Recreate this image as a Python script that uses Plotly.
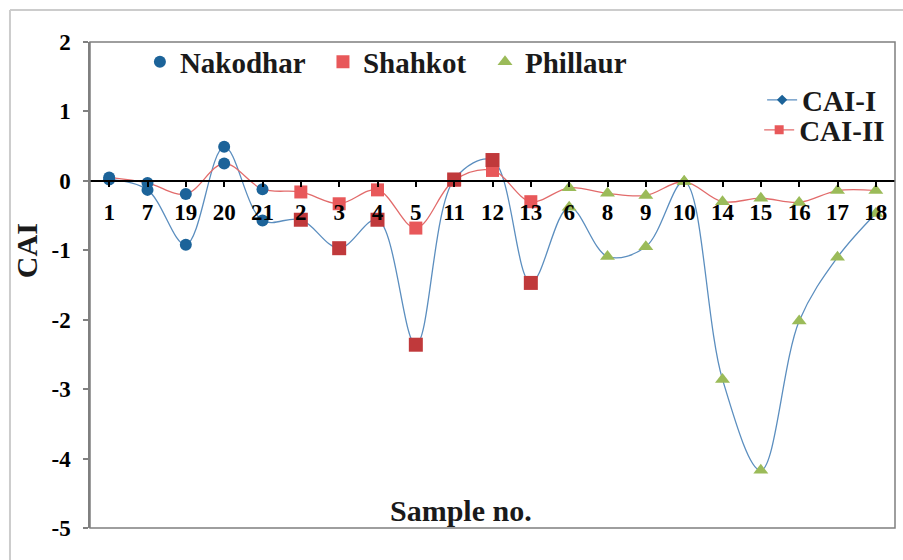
import plotly.graph_objects as go

# ---- data ----
samples = ["1", "7", "19", "20", "21", "2", "3", "4", "5", "11", "12", "13",
           "6", "8", "9", "10", "14", "15", "16", "17", "18"]
regions = ["Nakodhar"] * 5 + ["Shahkot"] * 7 + ["Phillaur"] * 9
cai_1 = [0.02, -0.13, -0.92, 0.49, -0.57, -0.56, -0.97, -0.56, -2.36, 0.02, 0.30, -1.47,
         -0.38, -1.09, -0.95, -0.01, -2.86, -4.17, -2.02, -1.10, -0.47]
cai_2 = [0.05, -0.03, -0.19, 0.25, -0.12, -0.16, -0.33, -0.13, -0.68, 0.01, 0.15, -0.30,
         -0.10, -0.18, -0.21, -0.01, -0.30, -0.25, -0.31, -0.14, -0.14]
y_ticks = [2, 1, 0, -1, -2, -3, -4, -5]

FONT = "'Liberation Serif', 'Times New Roman', Tinos, serif"
BLUE_LINE = "#5B8EBF"
RED_LINE = "#E26B6B"
NAK = "#1C6399"
SHA_LIGHT = "#E8585A"
SHA_DARK = "#C0393B"
PHI = "#9BBB59"

fig = go.Figure()

# smoothed lines
fig.add_trace(go.Scatter(x=samples, y=cai_1, mode="lines", line=dict(color=BLUE_LINE, width=1.3, shape="spline"),
                         showlegend=False, hoverinfo="skip"))
fig.add_trace(go.Scatter(x=samples, y=cai_2, mode="lines", line=dict(color=RED_LINE, width=1.3, shape="spline"),
                         showlegend=False, hoverinfo="skip"))


def pts(region, series):
    xs = [s for s, r in zip(samples, regions) if r == region]
    ys = [v for v, r in zip(series, regions) if r == region]
    return xs, ys


# Nakodhar (both series)
x1, y1 = pts("Nakodhar", cai_1)
x2, y2 = pts("Nakodhar", cai_2)
fig.add_trace(go.Scatter(x=x2 + x1, y=y2 + y1, mode="markers", name="Nakodhar",
                         marker=dict(symbol="circle", size=12, color=NAK), legend="legend"))
# Shahkot
x1, y1 = pts("Shahkot", cai_1)
x2, y2 = pts("Shahkot", cai_2)
fig.add_trace(go.Scatter(x=x2, y=y2, mode="markers", name="Shahkot",
                         marker=dict(symbol="square", size=13, color=SHA_LIGHT), legend="legend4"))
fig.add_trace(go.Scatter(x=x1, y=y1, mode="markers", name="Shahkot",
                         marker=dict(symbol="square", size=14, color=SHA_DARK), showlegend=False))
# Phillaur
x1, y1 = pts("Phillaur", cai_1)
x2, y2 = pts("Phillaur", cai_2)
fig.add_trace(go.Scatter(x=x2 + x1, y=y2 + y1, mode="markers", name="Phillaur",
                         marker=dict(symbol="triangle-up", size=13, color=PHI), legend="legend5"))

# series legend entries
fig.add_trace(go.Scatter(x=[None], y=[None], mode="lines+markers", name="CAI-I",
                         line=dict(color=BLUE_LINE, width=1.3),
                         marker=dict(symbol="diamond", size=8, color=NAK), legend="legend2"))
fig.add_trace(go.Scatter(x=[None], y=[None], mode="lines+markers", name="CAI-II",
                         line=dict(color=RED_LINE, width=1.3),
                         marker=dict(symbol="square", size=9, color=SHA_LIGHT), legend="legend3"))

legfont = dict(family=FONT, size=29, color="#1a1a1a", weight="bold")
top_y = (528 - 62) / 486


def top_legend(x):
    return dict(orientation="v", x=x, y=top_y, xanchor="left", yanchor="middle",
                bgcolor="rgba(0,0,0,0)", font=legfont, itemsizing="trace")


fig.update_layout(
    width=903, height=560,
    margin=dict(l=90, r=8, t=42, b=32),
    paper_bgcolor="white", plot_bgcolor="white",
    font=dict(family=FONT, size=22, color="black", weight="bold"),
    xaxis=dict(type="category", categoryorder="array", categoryarray=samples,
               range=[-0.5, len(samples) - 0.5],
               anchor="free", position=5 / 7,
               showline=True, linecolor="black", linewidth=1.5,
               ticks="outside", ticklen=5, tickcolor="black", tickwidth=1.5,
               ticklabelstandoff=6, showgrid=False, zeroline=False,
               tickfont=dict(family=FONT, size=23, color="black", weight="bold")),
    yaxis=dict(range=[-5, 2], tickvals=y_ticks, ticktext=[str(v) for v in y_ticks],
               showline=True, linecolor="#808080", linewidth=1.5,
               ticks="outside", ticklen=5, tickcolor="#808080", tickwidth=1.5,
               ticklabelstandoff=8, showgrid=False, zeroline=False,
               tickfont=dict(family=FONT, size=23, color="black", weight="bold")),
    legend=top_legend(0.062),
    legend4=top_legend(0.2894),
    legend5=top_legend(0.4907),
    legend2=dict(orientation="v", x=0.984, y=(528 - 100) / 486, xanchor="right", yanchor="middle",
                 bgcolor="rgba(0,0,0,0)", font=legfont),
    legend3=dict(orientation="v", x=0.994, y=(528 - 130) / 486, xanchor="right", yanchor="middle",
                 bgcolor="rgba(0,0,0,0)", font=legfont),
    shapes=[
        dict(type="rect", xref="paper", yref="paper", x0=0, x1=1, y0=0, y1=1,
             line=dict(color="#7f7f7f", width=1.5), layer="above"),
        dict(type="line", xref="paper", yref="paper", x0=-0.0994, x1=-0.0994, y0=1.066, y1=-0.2,
             line=dict(color="#cccccc", width=2)),
        dict(type="line", xref="paper", yref="paper", x0=-0.0994, x1=1.2, y0=1.066, y1=1.066,
             line=dict(color="#cccccc", width=2)),
    ],
    annotations=[
        dict(text="Sample no.", xref="paper", yref="paper", x=0.461, y=0.037,
             showarrow=False, xanchor="center", yanchor="middle",
             font=dict(family=FONT, size=30, color="#1a1a1a", weight="bold")),
        dict(text="CAI", xref="paper", yref="paper", x=-0.078, y=0.57, textangle=-90,
             showarrow=False, xanchor="center", yanchor="middle",
             font=dict(family=FONT, size=30, color="#1a1a1a", weight="bold")),
    ],
)

fig.write_html("out.html")
